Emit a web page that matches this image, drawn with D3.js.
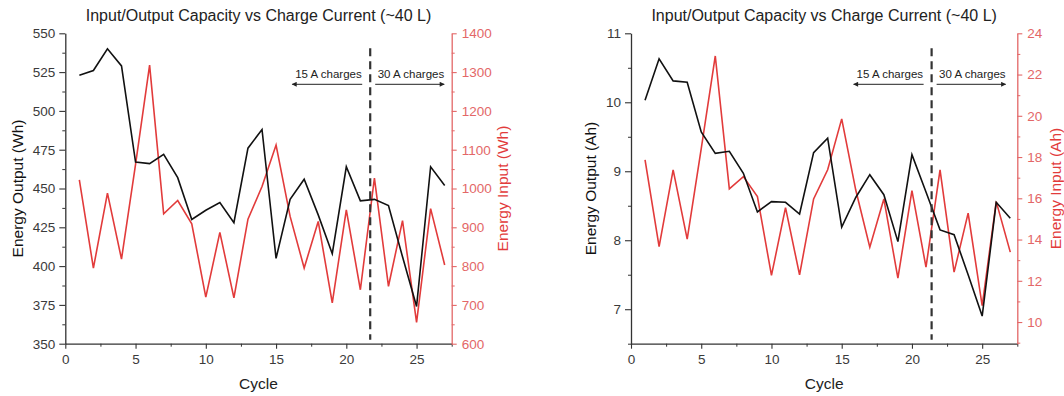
<!DOCTYPE html>
<html>
<head>
<meta charset="utf-8">
<script src="https://cdn.jsdelivr.net/npm/d3@7"></script>
<style>
  body { margin: 0; background: #fff; }
  svg { display: block; }
  text { font-family: "Liberation Sans", Arial, sans-serif; }
</style>
</head>
<body>
<svg id="chart" width="1064" height="396"></svg>
<script>
// ---- data -------------------------------------------------------------
const cycles = [1, 2, 3, 4, 5, 6, 7, 8, 9, 10, 11, 12, 13, 14, 15, 16, 17, 18, 19, 20, 21, 22, 23, 24, 25, 26, 27];

const outputWh = [523, 526, 540, 529, 467, 466, 472, 457, 430, 436, 441, 428, 476, 488, 405, 443, 456, 433, 408, 464, 442, 443, 439, 406, 374, 464, 452];
const inputWh  = [1022, 795, 988, 818, 1062, 1318, 935, 969, 909, 720, 887, 718, 921, 1005, 1112, 928, 795, 915, 705, 945, 739, 1027, 748, 917, 655, 948, 803];

const outputAh = [10.03, 10.63, 10.31, 10.29, 9.57, 9.26, 9.29, 8.97, 8.41, 8.56, 8.55, 8.38, 9.27, 9.48, 8.19, 8.62, 8.95, 8.66, 7.98, 9.24, 8.70, 8.15, 8.08, 7.50, 6.90, 8.55, 8.32];
const inputAh  = [17.86, 13.66, 17.38, 14.02, 18.41, 22.9, 16.46, 17.05, 16.08, 12.26, 15.55, 12.29, 15.97, 17.38, 19.85, 16.4, 13.63, 15.97, 12.13, 16.37, 12.66, 17.38, 12.42, 15.28, 10.79, 15.84, 13.39];

// charge-current change between the 15 A and 30 A runs
const switchCycleWh = 21.7;
const switchCycleAh = 21.4;

// ---- ticks ------------------------------------------------------------
const cycleTicks      = [0, 5, 10, 15, 20, 25];
const cycleMinorTicks = [2.5, 7.5, 12.5, 17.5, 22.5, 27.5];
const outputWhTicks   = [350, 375, 400, 425, 450, 475, 500, 525, 550];
const outputWhMinor   = [362.5, 387.5, 412.5, 437.5, 462.5, 487.5, 512.5, 537.5];
const inputWhTicks    = [600, 700, 800, 900, 1000, 1100, 1200, 1300, 1400];
const inputWhMinor    = [650, 750, 850, 950, 1050, 1150, 1250, 1350];
const outputAhTicks   = [7, 8, 9, 10, 11];
const outputAhMinor   = [6.5, 7.5, 8.5, 9.5, 10.5];
const inputAhTicks    = [10, 12, 14, 16, 18, 20, 22, 24];
const inputAhMinor    = [9, 11, 13, 15, 17, 19, 21, 23];

// ---- text -------------------------------------------------------------
const chartTitle = "Input/Output Capacity vs Charge Current (~40 L)";
const xTitle = "Cycle";
const lowLabel = "15 A charges";
const highLabel = "30 A charges";

// ---- layout -----------------------------------------------------------
const plotTop = 33.3, plotBottom = 343.7;
const BLACK = "#111", RED = "#e23b3b", RED_AXIS = "#e36767", AXIS = "#333", LABEL = "#3a3a3a";
const plain = d => String(d);

const panels = [
  {
    x0: 65.3, x1: 451.7,
    output: outputWh, input: inputWh,
    outDomain: [350, 550], inDomain: [600, 1400],
    outTicks: outputWhTicks, outMinor: outputWhMinor,
    inTicks: inputWhTicks, inMinor: inputWhMinor,
    outTitle: "Energy Output (Wh)", inTitle: "Energy Input (Wh)",
    outTitleX: 18, inTitleX: 503,
    switchCycle: switchCycleWh
  },
  {
    x0: 631, x1: 1017.3,
    output: outputAh, input: inputAh,
    outDomain: [6.5, 11], inDomain: [8.95, 24],
    outTicks: outputAhTicks, outMinor: outputAhMinor,
    inTicks: inputAhTicks, inMinor: inputAhMinor,
    outTitle: "Energy Output (Ah)", inTitle: "Energy Input (Ah)",
    outTitleX: 591, inTitleX: 1056,
    switchCycle: switchCycleAh
  }
];

const svg = d3.select("#chart");

// arrowhead used by the annotation arrows
svg.append("defs").append("marker")
  .attr("id", "arrowhead")
  .attr("viewBox", "0 0 10 10")
  .attr("refX", 9).attr("refY", 5)
  .attr("markerWidth", 7).attr("markerHeight", 5)
  .attr("markerUnits", "userSpaceOnUse")
  .attr("orient", "auto")
  .append("path").attr("d", "M0,0 L10,5 L0,10 Z").attr("fill", "#222");

function styleAxis(sel, lineColor, textColor, fontSize) {
  sel.select(".domain").attr("stroke", lineColor).attr("stroke-width", 1.3);
  sel.selectAll(".tick line").attr("stroke", lineColor).attr("stroke-width", 1.1);
  sel.selectAll(".tick text").attr("fill", textColor).style("font-size", fontSize + "px");
}

function drawPanel(p) {
  const g = svg.append("g");
  const x = d3.scaleLinear().domain([0, 27.5]).range([p.x0, p.x1]);
  const yOut = d3.scaleLinear().domain(p.outDomain).range([plotBottom, plotTop]);
  const yIn = d3.scaleLinear().domain(p.inDomain).range([plotBottom, plotTop]);

  // minor ticks
  g.append("g").attr("transform", `translate(0,${plotBottom})`)
    .call(d3.axisBottom(x).tickValues(cycleMinorTicks).tickSize(3).tickSizeOuter(0).tickFormat(""))
    .call(s => { s.select(".domain").remove(); s.selectAll("line").attr("stroke", AXIS); });
  g.append("g").attr("transform", `translate(${p.x0},0)`)
    .call(d3.axisLeft(yOut).tickValues(p.outMinor).tickSize(3).tickSizeOuter(0).tickFormat(""))
    .call(s => { s.select(".domain").remove(); s.selectAll("line").attr("stroke", AXIS); });
  g.append("g").attr("transform", `translate(${p.x1},0)`)
    .call(d3.axisRight(yIn).tickValues(p.inMinor).tickSize(3).tickSizeOuter(0).tickFormat(""))
    .call(s => { s.select(".domain").remove(); s.selectAll("line").attr("stroke", RED_AXIS); });

  // major axes
  g.append("g").attr("transform", `translate(0,${plotBottom})`)
    .call(d3.axisBottom(x).tickValues(cycleTicks).tickSize(5).tickSizeOuter(0).tickPadding(6).tickFormat(plain))
    .call(styleAxis, AXIS, LABEL, 13.5);
  g.append("g").attr("transform", `translate(${p.x0},0)`)
    .call(d3.axisLeft(yOut).tickValues(p.outTicks).tickSize(6).tickSizeOuter(0).tickPadding(4).tickFormat(plain))
    .call(styleAxis, AXIS, LABEL, 13.5);
  g.append("g").attr("transform", `translate(${p.x1},0)`)
    .call(d3.axisRight(yIn).tickValues(p.inTicks).tickSize(5).tickSizeOuter(0).tickPadding(5).tickFormat(plain))
    .call(styleAxis, RED_AXIS, RED_AXIS, 13.5);

  // series
  const outLine = d3.line().x((d, i) => x(cycles[i])).y(d => yOut(d));
  const inLine = d3.line().x((d, i) => x(cycles[i])).y(d => yIn(d));
  g.append("path").datum(p.input).attr("d", inLine)
    .attr("fill", "none").attr("stroke", RED).attr("stroke-width", 1.6).attr("stroke-linejoin", "miter");
  g.append("path").datum(p.output).attr("d", outLine)
    .attr("fill", "none").attr("stroke", BLACK).attr("stroke-width", 1.6).attr("stroke-linejoin", "miter");

  // 15 A / 30 A divider
  const xs = x(p.switchCycle);
  g.append("line")
    .attr("x1", xs).attr("x2", xs)
    .attr("y1", plotTop + 15).attr("y2", plotBottom - 4)
    .attr("stroke", "#333").attr("stroke-width", 2.2).attr("stroke-dasharray", "8,5");

  const labelY = plotTop + 45, arrowY = plotTop + 51;
  g.append("text").attr("x", xs - 8.5).attr("y", labelY)
    .attr("text-anchor", "end").style("font-size", "11.5px").attr("fill", "#222").text(lowLabel);
  g.append("text").attr("x", xs + 7.5).attr("y", labelY)
    .attr("text-anchor", "start").style("font-size", "11.5px").attr("fill", "#222").text(highLabel);
  g.append("line").attr("x1", xs - 8).attr("x2", xs - 78).attr("y1", arrowY).attr("y2", arrowY)
    .attr("stroke", "#222").attr("stroke-width", 1).attr("marker-end", "url(#arrowhead)");
  g.append("line").attr("x1", xs + 5).attr("x2", xs + 74).attr("y1", arrowY).attr("y2", arrowY)
    .attr("stroke", "#222").attr("stroke-width", 1).attr("marker-end", "url(#arrowhead)");

  // titles
  const cx = (p.x0 + p.x1) / 2;
  g.append("text").attr("x", cx).attr("y", 21).attr("text-anchor", "middle")
    .style("font-size", "16px").attr("fill", "#222").text(chartTitle);
  g.append("text").attr("x", cx).attr("y", 389).attr("text-anchor", "middle")
    .style("font-size", "15.5px").attr("fill", "#222").text(xTitle);
  const cy = (plotTop + plotBottom) / 2;
  g.append("text").attr("transform", `translate(${p.outTitleX},${cy}) rotate(-90)`)
    .attr("text-anchor", "middle").attr("dy", "0.35em")
    .style("font-size", "15.5px").attr("fill", "#111").text(p.outTitle);
  g.append("text").attr("transform", `translate(${p.inTitleX},${cy}) rotate(-90)`)
    .attr("text-anchor", "middle").attr("dy", "0.35em")
    .style("font-size", "15.5px").attr("fill", RED).text(p.inTitle);
}

panels.forEach(drawPanel);
</script>
</body>
</html>
